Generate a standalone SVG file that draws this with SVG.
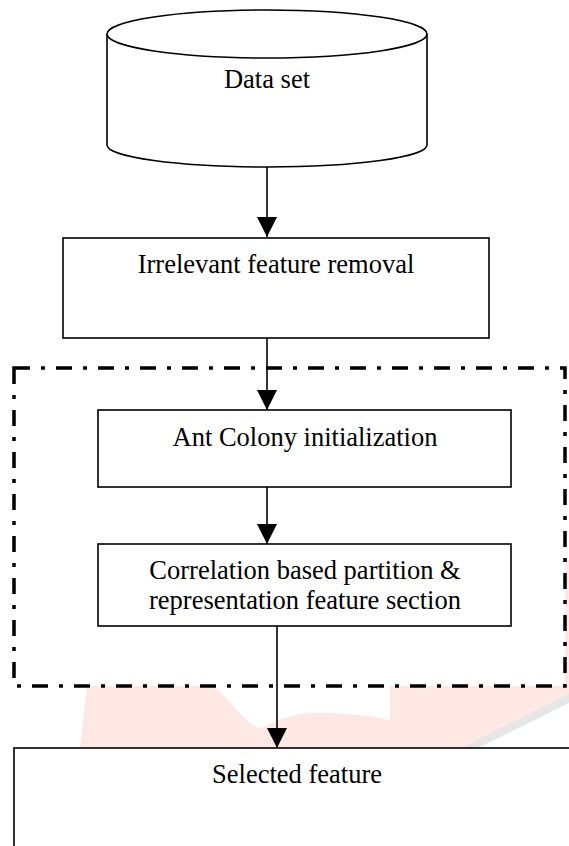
<svg xmlns="http://www.w3.org/2000/svg" width="569" height="846" viewBox="0 0 569 846">
<style>
.box{fill:#ffffff;stroke:#000000;stroke-width:1.6}
.lbl{font-family:"Liberation Serif","Times New Roman",serif;font-size:26.5px;fill:#000000;text-anchor:middle}
.con{stroke:#000000;stroke-width:1.6;fill:none;marker-end:url(#arr)}
.grp{fill:#ffffff;stroke:#000000;stroke-width:3.5;stroke-dasharray:16 11 4 11}
</style>
<defs>
<marker id="arr" markerUnits="userSpaceOnUse" viewBox="0 0 20 20" refX="20" refY="10" markerWidth="20" markerHeight="20" orient="auto">
<path d="M0,0 L20,10 L0,20 Z" fill="#000000"/>
</marker>
</defs>
<rect width="569" height="846" fill="#ffffff"/>
<g id="watermark">
<path d="M87,686 L214,686 C235,705 248,728 262,728 C280,718 300,712 320,713 C350,713 370,716 390,720 L390,686 L569,686 L569,695 L461,748 L80,748 Z" fill="#fde8e3"/>
<rect x="565" y="560" width="4" height="126" fill="#fde8e3"/>
<path d="M461,748 L569,694 L569,703 L478,748 Z" fill="#e6e6e6"/>
</g>
<g id="group-box">
<rect class="grp" x="14" y="368" width="551" height="318"/>
</g>
<g id="dataset">
<path class="box" d="M107,34 L107,145 A160,22 0 0 0 427,145 L427,34"/>
<ellipse class="box" cx="267" cy="34" rx="160" ry="24"/>
<text class="lbl" x="267" y="88">Data set</text>
</g>
<g id="irrelevant">
<rect class="box" x="63" y="238" width="426" height="100"/>
<text class="lbl" x="276" y="273">Irrelevant feature removal</text>
</g>
<g id="ant">
<rect class="box" x="98" y="410" width="413" height="77"/>
<text class="lbl" x="305" y="446">Ant Colony initialization</text>
</g>
<g id="correlation">
<rect class="box" x="98" y="544" width="413" height="82"/>
<text class="lbl" x="305" y="579">Correlation based partition &amp;</text>
<text class="lbl" x="305" y="609">representation feature section</text>
</g>
<g id="selected">
<rect class="box" x="14" y="748" width="580" height="120"/>
<text class="lbl" x="297" y="783">Selected feature</text>
</g>
<g id="connectors">
<line class="con" x1="267" y1="167" x2="267" y2="237"/>
<line class="con" x1="267" y1="338" x2="267" y2="410"/>
<line class="con" x1="267" y1="487" x2="267" y2="544"/>
<line class="con" x1="277" y1="626" x2="277" y2="748"/>
</g>
</svg>
